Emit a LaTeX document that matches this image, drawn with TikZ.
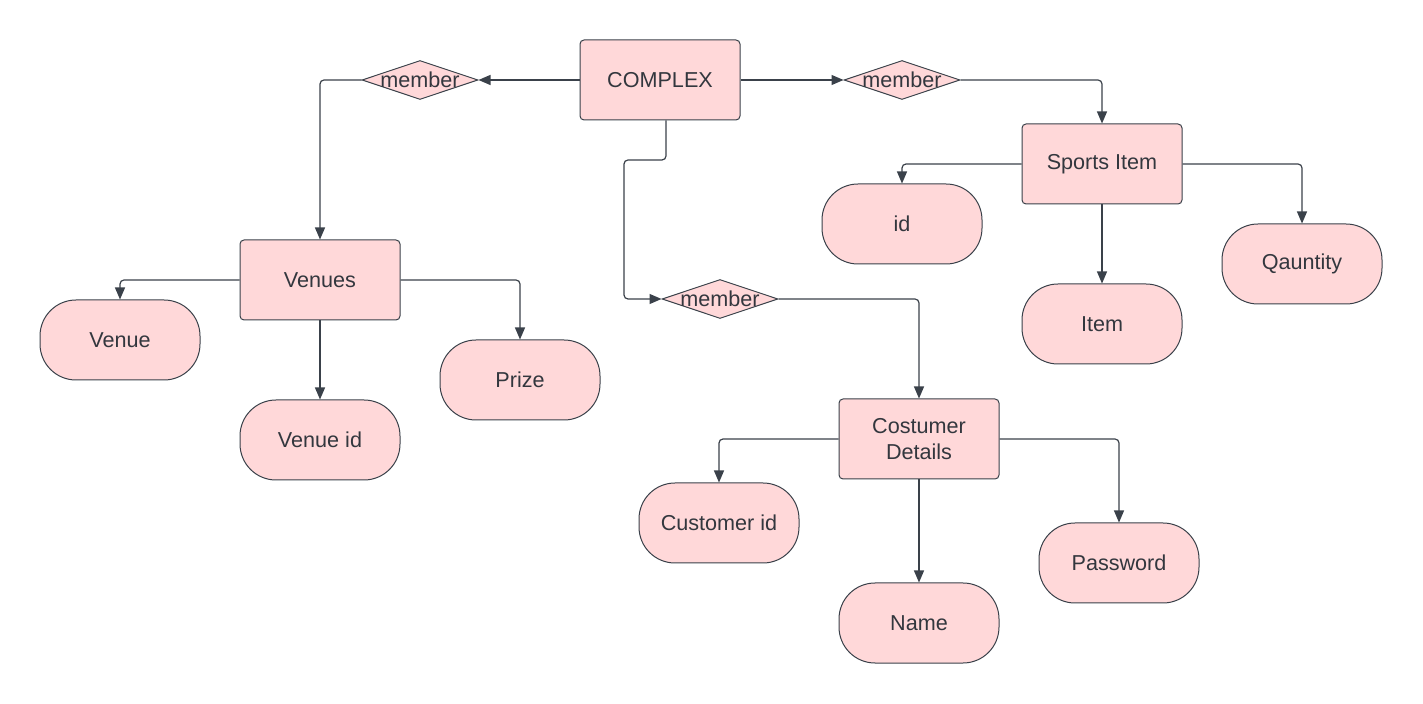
\documentclass[tikz,border=0pt]{standalone}
\usepackage{fontspec}
\setmainfont{Liberation Sans}
\usetikzlibrary{shapes.geometric, arrows.meta, positioning}

\definecolor{boxfill}{RGB}{255,216,217}
\definecolor{boxline}{RGB}{58,65,74}
\definecolor{boxtext}{RGB}{51,55,62}

\begin{document}
\begin{tikzpicture}[
  x=0.5pt, y=-0.5pt,
  every node/.style={font=\fontsize{10.8}{13}\selectfont, text=boxtext},
  entity/.style={rectangle, rounded corners=2pt,
                 minimum width=80pt, minimum height=40pt,
                 align=center, draw=boxline, line width=0.5pt,
                 fill=boxfill},
  attr/.style={entity, rounded corners=18pt},
  rel/.style={diamond, inner sep=0pt, aspect=1,
              minimum width=58pt, minimum height=19.5pt,
              draw=boxline, line width=0.5pt, fill=boxfill},
  arrow/.style={-{Triangle[length=6pt, width=5pt]}, line width=0.6pt,
                draw=boxline, rounded corners=2pt},
]

%% ── Canvas ────────────────────────────────────────────
\useasboundingbox (0,0) rectangle (1423,704);

%% ── Entities ──────────────────────────────────────────
\node[entity] (complex)  at (660, 80)  {COMPLEX};
\node[entity] (venues)   at (320,280)  {Venues};
\node[entity] (sports)   at (1102,164) {Sports Item};
\node[entity] (costumer) at (919,439)  {Costumer\\Details};

%% ── Relations ─────────────────────────────────────────
\node[rel] (mleft)  at (420, 80) {\makebox[0pt]{member}};
\node[rel] (mright) at (902, 80) {\makebox[0pt]{member}};
\node[rel] (mmid)   at (720,299) {\makebox[0pt]{member}};

%% ── Attributes: Venues ────────────────────────────────
\node[attr] (venue)   at (120,340) {Venue};
\node[attr] (venueid) at (320,440) {Venue id};
\node[attr] (prize)   at (520,380) {Prize};

%% ── Attributes: Sports Item ───────────────────────────
\node[attr] (id)       at (902,224)  {id};
\node[attr] (item)     at (1102,324) {Item};
\node[attr] (quantity) at (1302,264) {Qauntity};

%% ── Attributes: Costumer Details ──────────────────────
\node[attr] (custid)   at (719,523)  {Customer id};
\node[attr] (name)     at (919,623)  {Name};
\node[attr] (password) at (1119,563) {Password};

%% ── COMPLEX links ─────────────────────────────────────
\coordinate (bend) at (624,160);
\draw[arrow] (complex.west) -- (mleft.east);
\draw[arrow] (mleft.west) -| (venues.north);
\draw[arrow] (complex.east) -- (mright.west);
\draw[arrow] (mright.east) -| (sports.north);
\draw[arrow] ([xshift=3pt]complex.south) |- (bend) |- (mmid.west);
\draw[arrow] (mmid.east) -| (costumer.north);

%% ── Venues attributes ─────────────────────────────────
\draw[arrow] (venues.west)  -| (venue.north);
\draw[arrow] (venues.east)  -| (prize.north);
\draw[arrow] (venues.south) -- (venueid.north);

%% ── Sports Item attributes ────────────────────────────
\draw[arrow] (sports.west)  -| (id.north);
\draw[arrow] (sports.east)  -| (quantity.north);
\draw[arrow] (sports.south) -- (item.north);

%% ── Costumer Details attributes ───────────────────────
\draw[arrow] (costumer.west)  -| (custid.north);
\draw[arrow] (costumer.east)  -| (password.north);
\draw[arrow] (costumer.south) -- (name.north);

\end{tikzpicture}
\end{document}
